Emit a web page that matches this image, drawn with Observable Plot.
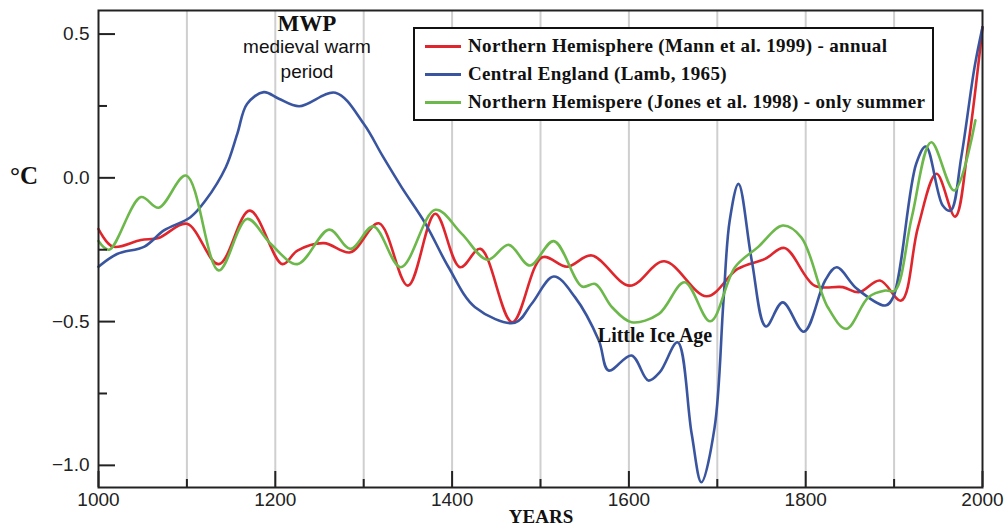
<!DOCTYPE html>
<html><head><meta charset="utf-8">
<script src="https://cdn.jsdelivr.net/npm/d3@7"></script>
<script src="https://cdn.jsdelivr.net/npm/@observablehq/plot@0.6"></script>
<style>
body{margin:0;background:#fff;}
#wrap{position:relative;width:1008px;height:529px;overflow:hidden;background:#fff;}
#wrap svg{position:absolute;left:0;top:0;}
.ann{position:absolute;white-space:nowrap;color:#111;line-height:1;}
.serif{font-family:"Liberation Serif","Times New Roman",serif;font-weight:bold;}
.sans{font-family:"Liberation Sans",Arial,sans-serif;}
#legend{position:absolute;left:413px;top:27px;width:517px;height:90px;border:2px solid #111;background:#fff;}
.row{position:absolute;left:0;height:24px;display:flex;align-items:center;}
.sw{width:36px;height:3px;margin-left:10px;margin-right:7px;}
.lt{font-family:"Liberation Serif","Times New Roman",serif;font-weight:bold;font-size:19px;letter-spacing:0.35px;color:#111;white-space:nowrap;}
</style></head><body><div id="wrap"></div>
<script>
// ---- data ----
const mannYears  = [1000,1016,1048,1068,1100,1136,1171,1208,1225,1255,1285,1317,1350,1381,1409,1432,1468,1502,1530,1558,1601,1640,1688,1723,1754,1776,1810,1842,1860,1884,1908,1927,1948,1969,1984,2000];
const mannValues = [-0.178,-0.239,-0.216,-0.209,-0.16,-0.30,-0.114,-0.30,-0.253,-0.227,-0.259,-0.158,-0.375,-0.125,-0.311,-0.247,-0.502,-0.276,-0.309,-0.27,-0.375,-0.29,-0.412,-0.317,-0.282,-0.244,-0.375,-0.38,-0.398,-0.357,-0.427,-0.172,0.014,-0.135,0.118,0.524];

const lambYears  = [1000,1021,1052,1074,1104,1121,1144,1157,1168,1187,1204,1227,1268,1300,1321,1343,1370,1396,1426,1471,1490,1515,1539,1566,1577,1603,1622,1635,1655,1671,1682,1697,1707,1714,1724,1739,1755,1774,1798,1822,1835,1858,1890,1899,1925,1936,1955,1964,1976,1991,2000];
const lambValues = [-0.309,-0.265,-0.239,-0.183,-0.137,-0.079,0.037,0.153,0.257,0.298,0.275,0.249,0.296,0.188,0.078,-0.033,-0.16,-0.311,-0.45,-0.504,-0.438,-0.343,-0.415,-0.566,-0.67,-0.618,-0.705,-0.676,-0.572,-0.89,-1.059,-0.867,-0.427,-0.149,-0.021,-0.288,-0.517,-0.433,-0.535,-0.357,-0.311,-0.386,-0.444,-0.415,0.049,0.109,-0.096,-0.114,0.072,0.385,0.524];

const jonesYears  = [1000,1012,1048,1068,1099,1136,1168,1195,1225,1261,1285,1311,1342,1381,1411,1440,1464,1488,1515,1547,1562,1581,1603,1634,1663,1692,1720,1746,1774,1795,1825,1846,1871,1890,1901,1920,1942,1968,1992];
const jonesValues = [-0.22,-0.25,-0.067,-0.104,0.008,-0.322,-0.143,-0.23,-0.30,-0.18,-0.247,-0.169,-0.311,-0.111,-0.195,-0.285,-0.233,-0.305,-0.22,-0.378,-0.369,-0.45,-0.502,-0.473,-0.363,-0.499,-0.311,-0.241,-0.166,-0.207,-0.45,-0.525,-0.415,-0.392,-0.392,-0.137,0.124,-0.044,0.2];

const seriesNames  = ["Northern Hemisphere (Mann et al. 1999) - annual","Central England (Lamb, 1965)","Northern Hemispere (Jones et al. 1998) - only summer"];
const seriesColors = ["#e0262d","#3a55a0","#6cb84a"];

const xLabelTicks = [1000,1200,1400,1600,1800,2000];
const xMinorTicks = [1100,1300,1500,1700,1900];
const gridYears   = [1100,1200,1300,1400,1500,1600,1700,1800,1900];
const yLabelTicks = [0.5,0.0,-0.5,-1.0];
const yMinorTicks = [0.25,-0.25,-0.75];

// ---- build table ----
const rows = [];
[[mannYears,mannValues],[lambYears,lambValues],[jonesYears,jonesValues]].forEach(([ys,vs],i)=>{
  ys.forEach((y,j)=>rows.push({series:seriesNames[i],year:y,value:vs[j]}));
});

const fmtY = d => d.toFixed(1).replace("-", "\u2212");

const chart = Plot.plot({
  width: 1008, height: 529,
  marginLeft: 98, marginRight: 26, marginTop: 10, marginBottom: 42,
  style: {fontFamily: '"Liberation Sans", Arial, sans-serif', fontSize: "19px", color: "#222", background: "transparent"},
  x: {domain: [1000, 2000]},
  y: {domain: [-1.077, 0.582]},
  color: {domain: seriesNames, range: seriesColors},
  marks: [
    Plot.gridX(gridYears, {stroke: "#cfcfcf", strokeOpacity: 1, strokeWidth: 2}),
    Plot.line(rows, {x: "year", y: "value", z: "series", stroke: "series", curve: "catmull-rom", strokeWidth: 2.6}),
    Plot.frame({stroke: "#222", strokeWidth: 2}),
    Plot.axisX(xLabelTicks, {tickSize: 0, tickPadding: 5, tickFormat: d => String(d), label: null, fontSize: 19, fill: "#222"}),
    Plot.axisX(xLabelTicks, {tickSize: -16, tickFormat: () => "", label: null, stroke: "#222", strokeWidth: 2}),
    Plot.axisX(xMinorTicks, {tickSize: -8, tickFormat: () => "", label: null, stroke: "#222", strokeWidth: 2}),
    Plot.axisY(yLabelTicks, {tickSize: 0, tickPadding: 9, tickFormat: fmtY, label: null, fontSize: 19, fill: "#222"}),
    Plot.axisY(yLabelTicks, {tickSize: -17, tickFormat: () => "", label: null, stroke: "#222", strokeWidth: 2}),
    Plot.axisY(yMinorTicks, {tickSize: -9, tickFormat: () => "", label: null, stroke: "#222", strokeWidth: 2})
  ]
});

const wrap = document.getElementById("wrap");
wrap.appendChild(chart);

function addText(html, cls, left, top, size, center) {
  const d = document.createElement("div");
  d.className = "ann " + cls;
  d.innerHTML = html;
  d.style.fontSize = size + "px";
  d.style.top = top + "px";
  if (center) { d.style.left = left + "px"; d.style.transform = "translateX(-50%)"; }
  else d.style.left = left + "px";
  wrap.appendChild(d);
}
addText("°C", "serif", 10, 163, 25, false);
addText("MWP", "serif", 307, 12, 23, true);
addText("medieval warm", "sans", 307, 37, 19, true);
addText("period", "sans", 307, 62, 19, true);
addText("Little Ice Age", "serif", 655, 325, 20, true);
addText("YEARS", "serif", 541, 507, 19, true);

// legend
const lg = document.createElement("div");
lg.id = "legend";
seriesNames.forEach((n, i) => {
  const r = document.createElement("div");
  r.className = "row";
  r.style.top = (5 + i * 28) + "px";
  r.innerHTML = `<div class="sw" style="background:${seriesColors[i]}"></div><div class="lt">${n}</div>`;
  lg.appendChild(r);
});
wrap.appendChild(lg);
</script>
</body></html>
